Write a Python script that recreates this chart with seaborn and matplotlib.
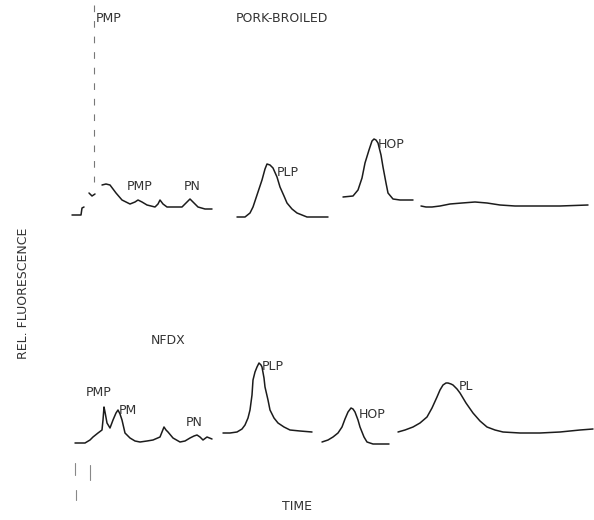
import pandas as pd
import seaborn as sns
import matplotlib.pyplot as plt

# Traces (time, signal) in picture units
# top panel: PORK-BROILED
top_early_t = [72, 81, 82, 84]
top_early_y = [215, 215, 208, 207]
top_tick_t = [89, 92, 95]
top_tick_y = [193, 196, 194]
top_pmp_t = [102, 106, 110, 116, 122, 130, 135, 138, 142, 147, 155, 158, 160, 163, 167, 175, 182, 186, 190, 194, 198, 205, 212]
top_pmp_y = [185, 184, 185, 193, 200, 204, 202, 200, 202, 205, 207, 204, 200, 204, 207, 207, 207, 203, 199, 203, 207, 209, 209]
top_plp_t = [237, 245, 250, 253, 257, 262, 265, 267, 270, 273, 277, 280, 284, 287, 292, 297, 307, 318, 328]
top_plp_y = [217, 217, 213, 207, 195, 180, 169, 164, 165, 168, 177, 187, 196, 203, 209, 213, 217, 217, 217]
top_hop_t = [343, 353, 358, 362, 365, 369, 372, 374, 376, 378, 381, 383, 386, 388, 393, 400, 413]
top_hop_y = [197, 196, 190, 178, 163, 150, 141, 139, 140, 143, 155, 167, 183, 193, 199, 200, 200]
top_tail_t = [421, 426, 432, 440, 450, 462, 475, 487, 500, 515, 533, 560, 588]
top_tail_y = [206, 207, 207, 206, 204, 203, 202, 203, 205, 206, 206, 206, 205]
top_spike_t = [94, 94]
top_spike_y = [5, 182]

# bottom panel: NFDX
bot_pmp_t = [75, 85, 90, 93, 98, 102, 103, 104, 105, 107, 110, 113, 116, 118, 120, 122, 125, 130, 135, 140, 147, 153, 160, 162, 164, 166, 168, 173, 180, 185, 190, 194, 197, 200, 203, 207, 212]
bot_pmp_y = [443, 443, 440, 437, 433, 430, 420, 407, 412, 423, 428, 420, 413, 410, 414, 420, 433, 438, 441, 442, 441, 440, 437, 432, 427, 430, 432, 438, 442, 441, 438, 436, 435, 437, 440, 437, 439]
bot_plp_t = [223, 230, 237, 242, 245, 248, 250, 252, 253, 255, 257, 259, 261, 262, 264, 265, 268, 270, 274, 278, 284, 290, 300, 312]
bot_plp_y = [433, 433, 432, 429, 425, 418, 410, 395, 380, 372, 367, 363, 365, 367, 378, 387, 400, 410, 418, 423, 427, 430, 431, 432]
bot_hop_t = [322, 328, 333, 338, 342, 345, 348, 351, 353, 355, 358, 360, 364, 367, 373, 380, 389]
bot_hop_y = [442, 440, 437, 433, 427, 419, 412, 408, 409, 412, 420, 427, 437, 442, 444, 444, 444]
bot_pl_t = [398, 405, 413, 420, 427, 432, 437, 440, 443, 446, 448, 451, 453, 457, 460, 466, 473, 480, 487, 495, 503, 520, 540, 560, 580, 593]
bot_pl_y = [432, 430, 427, 423, 417, 408, 397, 390, 385, 383, 383, 384, 385, 389, 393, 403, 413, 421, 427, 430, 432, 433, 433, 432, 430, 429]
bot_marks_t = [[75, 75], [76, 76], [90, 90]]
bot_marks_y = [[463, 475], [490, 500], [465, 480]]

# peak labels
top_labels = ["PMP", "PMP", "PN", "PLP", "HOP"]
top_label_t = [109, 140, 192, 288, 391]
top_label_y = [18, 187, 187, 172, 145]
bot_labels = ["PMP", "PM", "PN", "PLP", "HOP", "PL"]
bot_label_t = [99, 128, 194, 273, 372, 466]
bot_label_y = [392, 410, 423, 367, 414, 386]

sns.set_style("white")
plt.rcParams['font.family'] = ['Liberation Sans Narrow', 'DejaVu Sans']

fig = plt.figure(figsize=(5.94, 5.2), dpi=100)
ax = fig.add_axes([0, 0, 1, 1])

ink = "#1c1c1c"
solid = [
    (top_early_t, top_early_y), (top_tick_t, top_tick_y), (top_pmp_t, top_pmp_y),
    (top_plp_t, top_plp_y), (top_hop_t, top_hop_y), (top_tail_t, top_tail_y),
    (bot_pmp_t, bot_pmp_y), (bot_plp_t, bot_plp_y), (bot_hop_t, bot_hop_y), (bot_pl_t, bot_pl_y),
]
for t, y in solid:
    sns.lineplot(x=t, y=y, ax=ax, color=ink, linewidth=1.1, sort=False, estimator=None,
                 solid_joinstyle="round", solid_capstyle="round")

# off-scale spike and faint marks from the scan
sns.lineplot(x=top_spike_t, y=top_spike_y, ax=ax, color="#777777", linewidth=0.8,
             linestyle=(0, (6, 8)), sort=False, estimator=None)
for t, y in zip(bot_marks_t, bot_marks_y):
    sns.lineplot(x=t, y=y, ax=ax, color="#888888", linewidth=0.8, sort=False, estimator=None)

txt = dict(fontsize=9, color="#333333", va="center")
for s, t, y in zip(top_labels, top_label_t, top_label_y):
    ax.text(t, y, s, ha="center", **txt)
for s, t, y in zip(bot_labels, bot_label_t, bot_label_y):
    ax.text(t, y, s, ha="center", **txt)

ax.text(282, 18, "PORK-BROILED", ha="center", **txt)
ax.text(168, 340, "NFDX", ha="center", **txt)
ax.text(297, 507, "TIME", ha="center", **txt)
ax.text(24, 293, "REL. FLUORESCENCE", ha="center", rotation=90, **txt)

ax.set_xlim(0, 594)
ax.set_ylim(520, 0)
ax.axis("off")

plt.savefig("out.png", dpi=100, facecolor="white")
plt.close()
